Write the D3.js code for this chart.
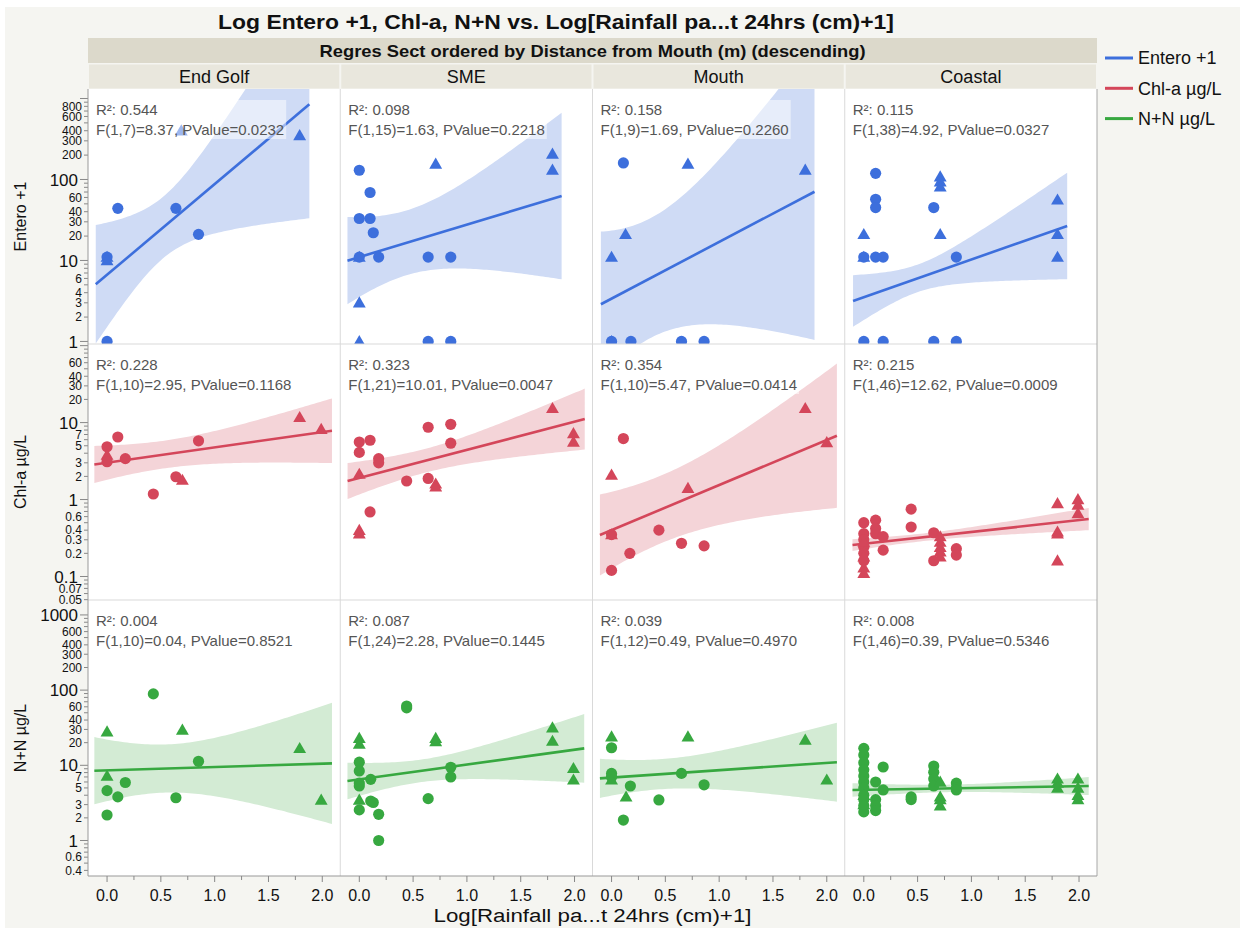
<!DOCTYPE html>
<html>
<head>
<meta charset="utf-8">
<script src="https://cdn.jsdelivr.net/npm/d3@7"></script>
<style>
  body { margin: 0; background: #fff; }
  text { font-family: "Liberation Sans", Arial, sans-serif; }
</style>
</head>
<body>
<svg id="chart" width="1243" height="931"></svg>
<script>
// ---- data ----
var columns = ["End Golf", "SME", "Mouth", "Coastal"];
var rowNames = ["Entero +1", "Chl-a µg/L", "N+N µg/L"];
var xTicks = [0, 0.5, 1.0, 1.5, 2.0];
var yDomains = [[0.93, 1310], [0.0495, 105], [0.337, 1580]];
var yTickLabels = [
  [800, 600, 400, 300, 200, 100, 60, 40, 30, 20, 10, 6, 4, 3, 2, 1],
  [60, 40, 30, 20, 10, 7, 5, 3, 2, 1, 0.6, 0.4, 0.3, 0.2, 0.1, 0.07, 0.05],
  [1000, 600, 400, 300, 200, 100, 60, 40, 30, 20, 10, 7, 5, 3, 2, 1, 0.6, 0.4]
];

var r2Entero = ["0.544", "0.098", "0.158", "0.115"];
var r2Chl = ["0.228", "0.323", "0.354", "0.215"];
var r2NN = ["0.004", "0.087", "0.039", "0.008"];
var fEntero = ["F(1,7)=8.37, PValue=0.0232", "F(1,15)=1.63, PValue=0.2218",
               "F(1,9)=1.69, PValue=0.2260", "F(1,38)=4.92, PValue=0.0327"];
var fChl = ["F(1,10)=2.95, PValue=0.1168", "F(1,21)=10.01, PValue=0.0047",
            "F(1,10)=5.47, PValue=0.0414", "F(1,46)=12.62, PValue=0.0009"];
var fNN = ["F(1,10)=0.04, PValue=0.8521", "F(1,24)=2.28, PValue=0.1445",
           "F(1,12)=0.49, PValue=0.4970", "F(1,46)=0.39, PValue=0.5346"];

// fit: [x start, x end, fit at start, fit at end, log half width at start, min, end]
var fitEntero = [
  [-0.105, 1.88, 5.08, 847, 0.732, 0.38, 1.407],
  [-0.11, 1.88, 9.95, 62.5, 0.539, 0.40, 1.029],
  [-0.099, 1.886, 2.88, 70.6, 0.897, 0.74, 1.83],
  [-0.10, 1.89, 3.16, 26.7, 0.319, 0.17, 0.658]
];
var fitChl = [
  [-0.118, 2.09, 2.86, 7.83, 0.24, 0.18, 0.42],
  [-0.109, 2.095, 1.74, 11.1, 0.234, 0.155, 0.396],
  [-0.108, 2.094, 0.346, 6.75, 0.526, 0.44, 0.937],
  [-0.105, 2.09, 0.256, 0.558, 0.076, 0.05, 0.145]
];
var fitNN = [
  [-0.118, 2.09, 8.47, 10.6, 0.447, 0.32, 0.806],
  [-0.11, 2.09, 6.18, 16.8, 0.243, 0.15, 0.457],
  [-0.108, 2.094, 6.71, 11.0, 0.26, 0.20, 0.525],
  [-0.105, 2.09, 4.7, 5.3, 0.09, 0.05, 0.12]
];

// points: [log rainfall, value, marker]
var enteroEndGolf = [[0, 11, "t"], [0, 11, "c"], [0.10, 44, "c"], [0.64, 44, "c"], [0.85, 21, "c"],
  [0.69, 400, "t"], [1.79, 350, "t"], [0, 1, "c"], [0, 10, "t"]];
var enteroSME = [[0, 130, "c"], [0.10, 69, "c"], [0, 33, "c"], [0.10, 33, "c"], [0.13, 22, "c"],
  [0, 11, "t"], [0, 11, "c"], [0.18, 11, "c"], [0.64, 11, "c"], [0.85, 11, "c"], [0.71, 155, "t"],
  [1.795, 206, "t"], [1.795, 131, "t"], [0, 3, "t"], [0, 1, "t"], [0.64, 1, "c"], [0.85, 1, "c"]];
var enteroMouth = [[0.11, 160, "c"], [0.71, 155, "t"], [1.80, 131, "t"], [0.13, 21, "t"], [0, 11, "t"],
  [0, 1, "t"], [0, 1, "c"], [0.18, 1, "c"], [0.65, 1, "c"], [0.86, 1, "c"]];
var enteroCoastal = [[0.11, 119, "c"], [0.11, 57, "c"], [0.11, 45, "c"], [0.65, 45, "c"],
  [0.71, 108, "t"], [0.71, 94, "t"], [0.71, 81, "t"], [0, 21, "t"], [0.71, 21, "t"], [0, 11, "t"],
  [0, 11, "c"], [0.11, 11, "c"], [0.18, 11, "c"], [0.86, 11, "c"], [1.80, 56, "t"], [1.80, 21, "t"],
  [1.80, 11, "t"], [0, 1, "c"], [0.18, 1, "c"], [0.65, 1, "c"], [0.86, 1, "c"]];

var chlEndGolf = [[0, 4.85, "c"], [0, 3.78, "t"], [0, 3.1, "c"], [0.10, 6.5, "c"], [0.17, 3.4, "c"],
  [0.43, 1.18, "c"], [0.64, 1.98, "c"], [0.70, 1.79, "t"], [0.85, 5.8, "c"], [1.79, 11.7, "t"],
  [1.99, 8.2, "t"]];
var chlSME = [[0, 5.6, "c"], [0, 4.1, "c"], [0.10, 5.9, "c"], [0.18, 3.4, "c"], [0.18, 3.0, "c"],
  [0, 2.14, "t"], [0.44, 1.74, "c"], [0.64, 8.7, "c"], [0.85, 9.5, "c"], [0.85, 5.4, "c"],
  [0.64, 1.88, "c"], [0.71, 1.6, "t"], [0.71, 1.47, "t"], [0.10, 0.69, "c"], [0, 0.40, "t"],
  [0, 0.36, "t"], [1.795, 15.3, "t"], [1.99, 7.2, "t"], [1.99, 5.6, "t"]];
var chlMouth = [[0.11, 6.2, "c"], [0, 2.08, "t"], [0.71, 1.4, "t"], [1.80, 15.3, "t"], [2.0, 5.5, "t"],
  [0, 0.35, "t"], [0, 0.35, "c"], [0.44, 0.40, "c"], [0.65, 0.27, "c"], [0.86, 0.25, "c"],
  [0.17, 0.20, "c"], [0, 0.12, "c"]];
var chlCoastal = [[0, 0.50, "c"], [0, 0.36, "c"], [0, 0.30, "c"], [0, 0.24, "c"], [0, 0.20, "c"],
  [0, 0.16, "c"], [0, 0.28, "t"], [0, 0.18, "t"], [0, 0.13, "t"], [0, 0.11, "t"],
  [0.11, 0.54, "c"], [0.11, 0.42, "c"], [0.11, 0.36, "c"], [0.18, 0.33, "c"], [0.18, 0.22, "c"],
  [0.44, 0.75, "c"], [0.44, 0.44, "c"], [0.65, 0.37, "c"], [0.65, 0.16, "c"],
  [0.71, 0.33, "t"], [0.71, 0.28, "t"], [0.71, 0.24, "t"], [0.71, 0.21, "t"], [0.71, 0.18, "t"],
  [0.86, 0.23, "c"], [0.86, 0.19, "c"], [1.80, 0.89, "t"], [1.80, 0.38, "t"], [1.80, 0.36, "t"],
  [1.80, 0.16, "t"], [1.99, 1.0, "t"], [1.99, 0.85, "t"], [1.99, 0.66, "t"]];

var nnEndGolf = [[0.43, 89, "c"], [0, 28, "t"], [0.70, 29.5, "t"], [1.79, 16.8, "t"], [0.85, 11.3, "c"],
  [0, 7.2, "t"], [0.17, 5.9, "c"], [0, 4.6, "c"], [0.10, 3.8, "c"], [0.64, 3.7, "c"],
  [1.99, 3.46, "t"], [0, 2.18, "c"]];
var nnSME = [[0.44, 61.5, "c"], [0.44, 58, "c"], [0, 22.9, "t"], [0, 19.2, "t"], [0.71, 22.9, "t"],
  [0.71, 20.7, "t"], [1.795, 31.6, "t"], [1.795, 21, "t"], [0, 11, "c"], [0, 8.4, "c"], [0, 5.8, "c"],
  [0, 5.3, "c"], [0.106, 6.5, "c"], [0.85, 9.4, "c"], [0.85, 7.0, "c"], [1.99, 9.1, "t"],
  [1.99, 6.4, "t"], [0.64, 3.6, "c"], [0, 3.46, "t"], [0, 2.55, "c"], [0.106, 3.35, "c"],
  [0.13, 3.2, "c"], [0.18, 2.23, "c"], [0.18, 1.0, "c"]];
var nnMouth = [[0, 24, "t"], [0, 17.1, "c"], [0.71, 24, "t"], [1.80, 21.7, "t"], [0, 7.8, "c"],
  [0, 7.0, "c"], [0, 6.4, "t"], [0.65, 7.8, "c"], [0.175, 5.3, "c"], [0.86, 5.5, "c"], [2.0, 6.4, "t"],
  [0.135, 3.8, "t"], [0.44, 3.46, "c"], [0.11, 1.87, "c"]];
var nnCoastal = [[0, 16.8, "c"], [0, 13.7, "c"], [0, 10.8, "c"], [0, 8.7, "c"], [0, 7.2, "c"],
  [0, 6.0, "c"], [0, 5.0, "c"], [0, 4.0, "c"], [0, 3.5, "c"], [0, 2.9, "c"], [0, 2.4, "c"],
  [0, 3.0, "t"], [0, 4.0, "t"], [0.11, 6.0, "c"], [0.11, 3.5, "c"], [0.11, 2.9, "c"], [0.11, 2.5, "c"],
  [0.18, 9.5, "c"], [0.18, 4.7, "c"], [0.44, 3.8, "c"], [0.44, 3.5, "c"], [0.65, 9.8, "c"],
  [0.65, 8.1, "c"], [0.65, 6.6, "c"], [0.65, 5.3, "c"], [0.71, 6.0, "t"], [0.71, 3.8, "t"],
  [0.71, 3.5, "t"], [0.71, 2.9, "t"], [0.86, 5.8, "c"], [0.86, 5.0, "c"], [0.86, 4.7, "c"],
  [1.80, 6.6, "t"], [1.80, 5.8, "t"], [1.80, 5.0, "t"], [1.99, 6.6, "t"], [1.99, 5.0, "t"],
  [1.99, 4.0, "t"], [1.99, 3.5, "t"]];

var rowColors = ["#3d6fdc", "#d4465a", "#37a840"];
var bandColors = ["#cfdbf5", "#f4d4d8", "#d3ebd4"];

var panelPoints = [
  [enteroEndGolf, enteroSME, enteroMouth, enteroCoastal],
  [chlEndGolf, chlSME, chlMouth, chlCoastal],
  [nnEndGolf, nnSME, nnMouth, nnCoastal]
];
var panelFits = [fitEntero, fitChl, fitNN];
var panelR2 = [r2Entero, r2Chl, r2NN];
var panelF = [fEntero, fChl, fNN];

// ---- layout ----
var svg = d3.select("#chart");
var plotL = 88, plotR = 1097;
var colW = (plotR - plotL) / 4;
var rowTop = [89, 344, 600], rowBot = [344, 600, 876];

svg.append("rect").attr("width", 1243).attr("height", 931).attr("fill", "#fff");
svg.append("rect").attr("x", 5).attr("y", 7).attr("width", 1235).attr("height", 921)
  .attr("fill", "#f5f5f1");

svg.append("text").attr("x", 556).attr("y", 29).attr("text-anchor", "middle")
  .style("font-size", "21px").style("font-weight", "bold").attr("fill", "#111")
  .attr("textLength", 676).attr("lengthAdjust", "spacingAndGlyphs")
  .text("Log Entero +1, Chl-a, N+N vs. Log[Rainfall pa...t 24hrs (cm)+1]");

// header bands
svg.append("rect").attr("x", plotL).attr("y", 38).attr("width", plotR - plotL).attr("height", 25)
  .attr("fill", "#dcd9cb");
svg.append("text").attr("x", (plotL + plotR) / 2).attr("y", 57).attr("text-anchor", "middle")
  .style("font-size", "17px").style("font-weight", "bold").attr("fill", "#111")
  .attr("textLength", 546).attr("lengthAdjust", "spacingAndGlyphs")
  .text("Regres Sect ordered by Distance from Mouth (m) (descending)");

columns.forEach(function(name, c) {
  var x0 = plotL + c * colW;
  svg.append("rect").attr("x", x0 + 1).attr("y", 64.5).attr("width", colW - 2).attr("height", 24)
    .attr("fill", "#e9e7dd");
  svg.append("text").attr("x", x0 + colW / 2).attr("y", 83).attr("text-anchor", "middle")
    .style("font-size", "18px").attr("fill", "#111").text(name);
});

var defs = svg.append("defs");
var triangle = d3.symbol().type(d3.symbolTriangle).size(72);
var circle = d3.symbol().type(d3.symbolCircle).size(98);

panelPoints.forEach(function(rowPts, r) {
  var y = d3.scaleLog().domain(yDomains[r]).range([rowBot[r], rowTop[r]]);

  rowPts.forEach(function(pts, c) {
    var x0 = plotL + c * colW;
    var x = d3.scaleLinear().domain([-0.177, 2.167]).range([x0, x0 + colW]);
    var id = "clip" + r + "_" + c;
    defs.append("clipPath").attr("id", id).append("rect")
      .attr("x", x0).attr("y", rowTop[r]).attr("width", colW).attr("height", rowBot[r] - rowTop[r]);

    svg.append("rect").attr("x", x0).attr("y", rowTop[r]).attr("width", colW)
      .attr("height", rowBot[r] - rowTop[r]).attr("fill", "#fff");

    var g = svg.append("g").attr("clip-path", "url(#" + id + ")");

    // fit line and confidence band (hyperbola through the read half widths)
    var f = panelFits[r][c];
    var xL = f[0], xR = f[1];
    var lyL = Math.log10(f[2]), lyR = Math.log10(f[3]);
    var h0 = f[5];
    var a = Math.sqrt(Math.max(f[4] * f[4] - h0 * h0, 1e-9));
    var b = Math.sqrt(Math.max(f[6] * f[6] - h0 * h0, 1e-9));
    var ratio = a / b;
    var xc = (xL + ratio * xR) / (1 + ratio);
    var k = a / (xc - xL);
    function fitLog(v) { return lyL + (lyR - lyL) * (v - xL) / (xR - xL); }
    function halfW(v) { return Math.sqrt(h0 * h0 + k * k * (v - xc) * (v - xc)); }

    var xs = d3.range(0, 81).map(function(i) { return xL + (xR - xL) * i / 80; });
    var area = d3.area()
      .x(function(d) { return x(d); })
      .y0(function(d) { return y(Math.pow(10, fitLog(d) - halfW(d))); })
      .y1(function(d) { return y(Math.pow(10, fitLog(d) + halfW(d))); });
    g.append("path").attr("d", area(xs)).attr("fill", bandColors[r]);

    g.append("line")
      .attr("x1", x(xL)).attr("y1", y(f[2]))
      .attr("x2", x(xR)).attr("y2", y(f[3]))
      .attr("stroke", rowColors[r]).attr("stroke-width", 2.6);

    g.selectAll(".pt").data(pts).enter().append("path")
      .attr("d", function(d) { return d[2] === "t" ? triangle() : circle(); })
      .attr("transform", function(d) {
        return "translate(" + x(d[0]) + "," + (y(d[1]) + (d[2] === "t" ? 1 : 0)) + ")";
      })
      .attr("fill", rowColors[r]);

    // stats text with a half white box behind it
    var tg = svg.append("g");
    var t1 = tg.append("text").attr("x", x0 + 8).attr("y", rowTop[r] + 26)
      .style("font-size", "15px").attr("fill", "#555").text("R²: " + panelR2[r][c]);
    var t2 = tg.append("text").attr("x", x0 + 8).attr("y", rowTop[r] + 46)
      .style("font-size", "15px").attr("fill", "#555").text(panelF[r][c]);
    var bb1 = t1.node().getBBox(), bb2 = t2.node().getBBox();
    var bx = Math.min(bb1.x, bb2.x) - 1, bw = Math.max(bb1.width, bb2.width) + 3;
    tg.insert("rect", "text").attr("x", bx).attr("y", bb1.y - 1)
      .attr("width", bw).attr("height", bb2.y + bb2.height - bb1.y + 2)
      .attr("fill", "#fff").attr("opacity", 0.5);
  });

  // y axis with log ticks
  var ax = svg.append("g");
  var labelSet = yTickLabels[r];
  y.ticks().forEach(function(v) {
    var py = y(v);
    if (py < rowTop[r] - 0.5 || py > rowBot[r] + 0.5) return;
    var lg = Math.log10(v);
    var major = Math.abs(lg - Math.round(lg)) < 1e-6;
    ax.append("line").attr("x1", plotL - (major ? 8 : 4)).attr("x2", plotL)
      .attr("y1", py).attr("y2", py).attr("stroke", "#888").attr("stroke-width", 1);
    var hit = labelSet.some(function(l) { return Math.abs(l - v) / v < 1e-6; });
    if (hit) {
      ax.append("text").attr("x", major ? plotL - 10 : plotL - 6).attr("y", py)
        .attr("dy", "0.36em").attr("text-anchor", "end")
        .style("font-size", major ? "17px" : "12px").attr("fill", "#111")
        .text(d3.format("~g")(v));
    }
  });

  svg.append("text")
    .attr("transform", "translate(26," + (rowTop[r] + rowBot[r]) / 2 + ") rotate(-90)")
    .attr("text-anchor", "middle").style("font-size", "16px").attr("fill", "#111")
    .text(rowNames[r]);
});

// panel separators and frame
var frame = svg.append("g").attr("fill", "none");
[1, 2, 3].forEach(function(c) {
  frame.append("line").attr("x1", plotL + c * colW).attr("x2", plotL + c * colW)
    .attr("y1", rowTop[0]).attr("y2", rowBot[2]).attr("stroke", "#d9d9d9");
});
[1, 2].forEach(function(r) {
  frame.append("line").attr("x1", plotL).attr("x2", plotR)
    .attr("y1", rowTop[r]).attr("y2", rowTop[r]).attr("stroke", "#d9d9d9");
});
frame.append("line").attr("x1", plotR).attr("x2", plotR).attr("y1", rowTop[0]).attr("y2", rowBot[2])
  .attr("stroke", "#a8a8a8");
frame.append("line").attr("x1", plotL).attr("x2", plotL).attr("y1", rowTop[0]).attr("y2", rowBot[2])
  .attr("stroke", "#999");
frame.append("line").attr("x1", plotL).attr("x2", plotR).attr("y1", rowBot[2]).attr("y2", rowBot[2])
  .attr("stroke", "#999");

// x axes
columns.forEach(function(name, c) {
  var x0 = plotL + c * colW;
  var x = d3.scaleLinear().domain([-0.177, 2.167]).range([x0, x0 + colW]);
  d3.range(0, 9).forEach(function(i) {
    var v = i * 0.25;
    var major = i % 2 === 0;
    svg.append("line").attr("x1", x(v)).attr("x2", x(v))
      .attr("y1", rowBot[2]).attr("y2", rowBot[2] + (major ? 6 : 4)).attr("stroke", "#888");
  });
  xTicks.forEach(function(v) {
    svg.append("text").attr("x", x(v)).attr("y", 901).attr("text-anchor", "middle")
      .style("font-size", "16px").attr("fill", "#111").text(d3.format(".1f")(v));
  });
});

svg.append("text").attr("x", (plotL + plotR) / 2).attr("y", 922).attr("text-anchor", "middle")
  .style("font-size", "18px").attr("fill", "#111")
  .attr("textLength", 318).attr("lengthAdjust", "spacingAndGlyphs")
  .text("Log[Rainfall pa...t 24hrs (cm)+1]");

// legend
rowNames.forEach(function(name, i) {
  var ly = 58 + i * 30.3;
  svg.append("line").attr("x1", 1105).attr("x2", 1133).attr("y1", ly).attr("y2", ly)
    .attr("stroke", rowColors[i]).attr("stroke-width", 3);
  svg.append("text").attr("x", 1138).attr("y", ly).attr("dy", "0.36em")
    .style("font-size", "18px").attr("fill", "#111").text(name);
});
</script>
</body>
</html>
